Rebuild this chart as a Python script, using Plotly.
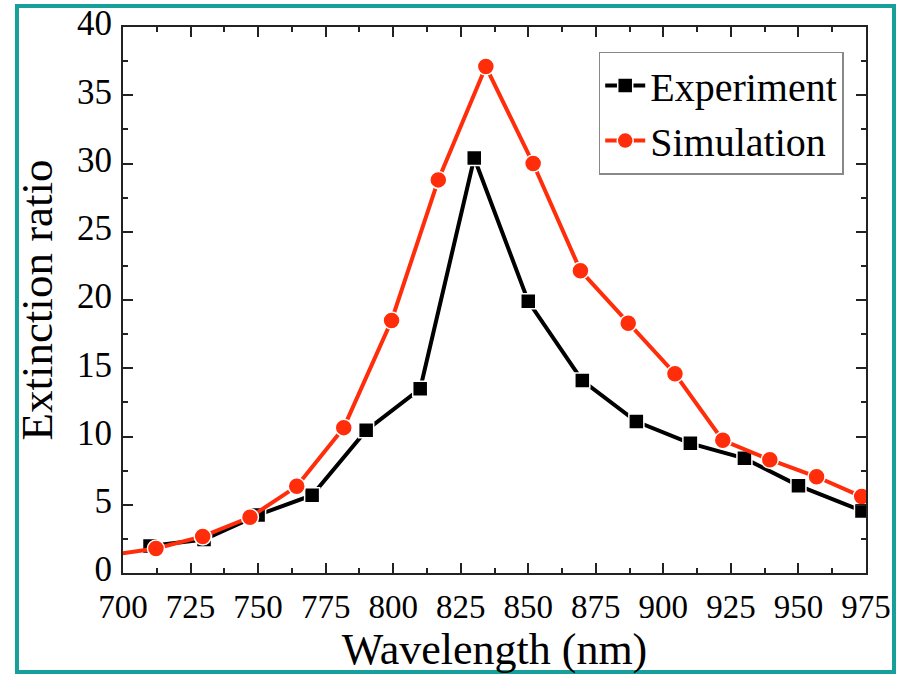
import plotly.graph_objects as go

# Data
exp_wavelength = [710, 730, 750, 770, 790, 810, 830, 850, 870, 890, 910, 930, 950, 973.5]
exp_ratio = [1.98, 2.45, 4.25, 5.7, 10.45, 13.5, 30.4, 19.9, 14.1, 11.1, 9.5, 8.4, 6.4, 4.55]

sim_wavelength = [694.7, 712.2, 729.5, 747, 764.3, 781.7, 799.4, 816.7, 834.3, 851.8, 869.3,
                  887.0, 904.3, 922.0, 939.4, 956.7, 973.4]
sim_ratio = [1.3, 1.8, 2.68, 4.08, 6.35, 10.65, 18.5, 28.8, 37.1, 30.0, 22.15,
             18.3, 14.6, 9.72, 8.3, 7.05, 5.6]

x_ticks = [700, 725, 750, 775, 800, 825, 850, 875, 900, 925, 950, 975]
y_ticks = [0, 5, 10, 15, 20, 25, 30, 35, 40]

FONT = "Liberation Serif"
RED = "#ff2d0a"

fig = go.Figure()
fig.add_trace(go.Scatter(
    x=exp_wavelength, y=exp_ratio, name="Experiment", mode="lines+markers",
    line=dict(color="black", width=4),
    marker=dict(symbol="square", size=15, color="black", line=dict(color="white", width=1.5)),
))
fig.add_trace(go.Scatter(
    x=sim_wavelength, y=sim_ratio, name="Simulation", mode="lines+markers",
    line=dict(color=RED, width=4),
    marker=dict(symbol="circle", size=17, color=RED, line=dict(color="white", width=1.5)),
))

axis_common = dict(
    showline=True, linecolor="#222", linewidth=2, mirror="ticks",
    ticks="inside", ticklen=10, tickwidth=2, tickcolor="#222",
    showgrid=False, zeroline=False, automargin=False,
)

fig.update_xaxes(
    range=[700, 975], tickvals=x_ticks, ticktext=[str(v) for v in x_ticks],
    minor=dict(ticks="inside", ticklen=5, tickwidth=2, tickcolor="#222", dtick=12.5, tick0=700),
    tickfont=dict(family=FONT, size=33, color="black"),
    ticklabelstandoff=3,
    title=dict(text="Wavelength (nm)", font=dict(family=FONT, size=44, color="black"), standoff=3),
    **axis_common,
)
fig.update_yaxes(
    range=[0, 40], tickvals=y_ticks, ticktext=[str(v) for v in y_ticks],
    minor=dict(ticks="inside", ticklen=5, tickwidth=2, tickcolor="#222", dtick=2.5, tick0=0),
    tickfont=dict(family=FONT, size=35, color="black"),
    ticklabelstandoff=2, ticklabelshift=-4,
    title=dict(text="Extinction ratio", font=dict(family=FONT, size=45, color="black"), standoff=10),
    **axis_common,
)

fig.update_layout(
    width=900, height=674,
    margin=dict(l=123, r=34, t=27, b=101),
    paper_bgcolor="white", plot_bgcolor="white",
    showlegend=True,
    legend=dict(
        x=0.97, y=0.955, xanchor="right", yanchor="top",
        bgcolor="white", bordercolor="#888", borderwidth=1.5,
        font=dict(family=FONT, size=40, color="black"),
        tracegroupgap=0, itemwidth=40,
    ),
    shapes=[dict(
        type="rect", xref="paper", yref="paper",
        x0=-0.1427, x1=1.0377, y0=-0.1813, y1=1.0385,
        line=dict(color="#17a09a", width=4), fillcolor="rgba(0,0,0,0)", layer="below",
    )],
)

fig.write_html("out.html")
